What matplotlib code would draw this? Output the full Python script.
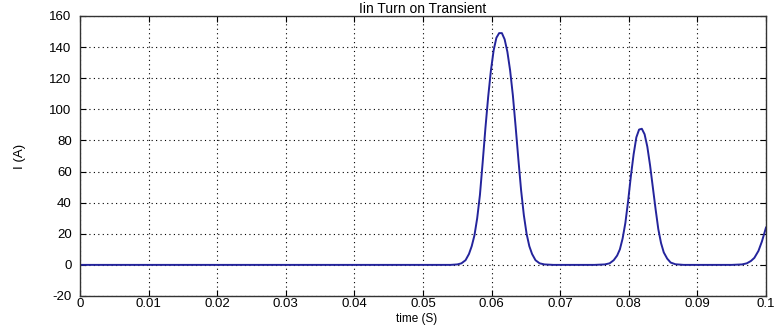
import matplotlib
matplotlib.use("Agg")
import matplotlib.pyplot as plt

plt.rcParams['font.family'] = ['Liberation Sans', 'DejaVu Sans']
plt.rcParams['axes.unicode_minus'] = False

title = "Iin Turn on Transient"
xlabel = "time (S)"
ylabel = "I (A)"

x_ticks = [0, 0.01, 0.02, 0.03, 0.04, 0.05, 0.06, 0.07, 0.08, 0.09, 0.1]
x_tick_labels = ["0", "0.01", "0.02", "0.03", "0.04", "0.05", "0.06", "0.07", "0.08", "0.09", "0.1"]
y_ticks = [-20, 0, 20, 40, 60, 80, 100, 120, 140, 160]

t = [0.0, 0.0540, 0.0550, 0.0556, 0.0562, 0.0567, 0.0571, 0.0575, 0.0579, 0.0583,
     0.0587, 0.0591, 0.0595, 0.0599, 0.0603, 0.0607, 0.0611, 0.0615, 0.0619, 0.0623,
     0.0627, 0.0631, 0.0635, 0.0639, 0.0643, 0.0647, 0.0651, 0.0655, 0.0659, 0.0664,
     0.0670, 0.0677, 0.0690,
     0.0750, 0.0765, 0.0772, 0.0778, 0.0783, 0.0787, 0.0791, 0.0795, 0.0799, 0.0803,
     0.0807, 0.0811, 0.0815, 0.0819, 0.0823, 0.0827, 0.0831, 0.0835, 0.0839, 0.0843,
     0.0847, 0.0851, 0.0856, 0.0861, 0.0868, 0.0880,
     0.0950, 0.0965, 0.0972, 0.0978, 0.0983, 0.0989, 0.0994, 0.0998, 0.1000]

current = [0, 0, 0.3, 1, 3, 7, 12, 19, 30, 45,
           66, 88, 108, 125, 138, 146, 149, 149, 145, 137,
           125, 109, 89, 68, 48, 32, 20, 12, 7, 3,
           1, 0.3, 0,
           0, 0.3, 1, 3, 6, 10, 17, 27, 41, 57,
           71, 82, 87, 87.5, 84, 76, 64, 50, 36, 23,
           14, 8, 4, 1.5, 0.4, 0,
           0, 0.3, 1, 2.5, 4.5, 9, 15, 21, 24]

W, H = 778, 326
ax_left, ax_right, ax_top, ax_bottom = 80, 766, 16, 296
fig = plt.figure(figsize=(W / 100, H / 100), dpi=100, facecolor='white')
ax = fig.add_axes([ax_left / W, (H - ax_bottom) / H,
                   (ax_right - ax_left) / W, (ax_bottom - ax_top) / H])

ax.plot(t, current, color='#24249c', linewidth=1.4)

ax.set_xlim(0, 0.1)
ax.set_ylim(-20, 160)
ax.set_xticks(x_ticks)
ax.set_xticklabels(x_tick_labels)
ax.set_yticks(y_ticks)

ax.grid(True, color='black', linestyle=(0, (1, 3)), linewidth=0.8)
ax.tick_params(direction='in', length=4, top=True, right=True, labelsize=9.5,
               colors='black')
ax.tick_params(axis='x', pad=1.5)
ax.tick_params(axis='y', pad=6)
for s in ax.spines.values():
    s.set_linewidth(1.0)
    s.set_color('#333333')

ax_h = ax_bottom - ax_top
ax.set_title(title, fontsize=10, pad=2)
ax.set_xlabel(xlabel, fontsize=8.5)
ax.xaxis.set_label_coords(0.49, -(312.8 - ax_bottom) / ax_h)
ax.set_ylabel(ylabel, fontsize=9.5)
ax.yaxis.set_label_coords((26 - ax_left) / (ax_right - ax_left), 0.5)

fig.savefig("out.png", dpi=100, facecolor='white')
